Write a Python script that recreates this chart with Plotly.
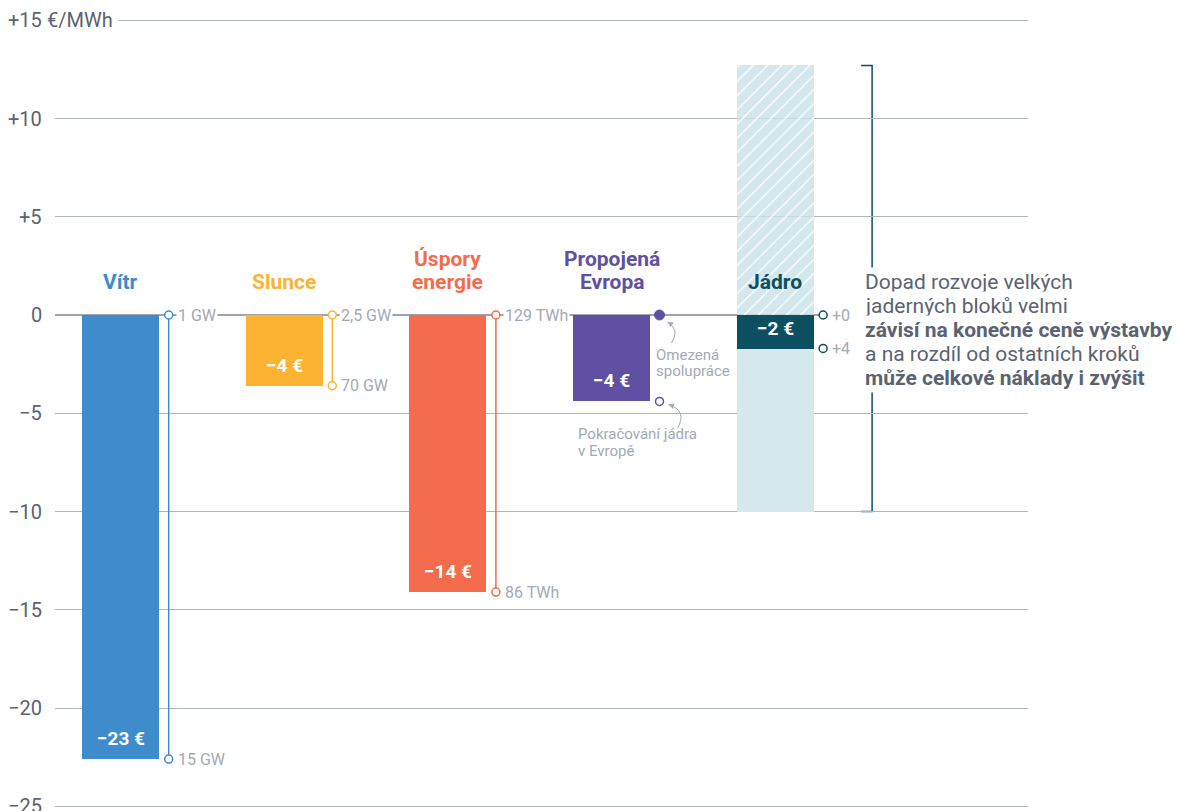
import numpy as np
import plotly.graph_objects as go

# ---------------- data ----------------
categories = ["Vítr", "Slunce", "Úspory<br>energie", "Propojená<br>Evropa", "Jádro"]
bar_values = [-22.6, -3.6, -14.1, -4.4, -1.75]
bar_labels = ["−23 €", "−4 €", "−14 €", "−4 €", "−2 €"]
range_top = [0, 0, 0, 0, 0]
range_bottom = [-22.6, -3.6, -14.1, -4.4, -1.7]
top_labels = ["1 GW", "2,5 GW", "129 TWh", "", "+0"]
bottom_labels = ["15 GW", "70 GW", "86 TWh", "", "+4"]
nuclear_low = -10.0
nuclear_high = 12.7
y_ticks = [15, 10, 5, 0, -5, -10, -15, -20, -25]
y_tick_labels = ["+15", "+10", "+5", "0", "−5", "−10", "−15", "−20", "−25"]
y_unit = "€/MWh"
europe_note_top = ["Omezená", "spolupráce"]
europe_note_bottom = ["Pokračování jádra", "v Evropě"]
note_lines = [
    "Dopad rozvoje velkých",
    "jaderných bloků velmi",
    "<b>závisí na konečné ceně výstavby</b>",
    "a na rozdíl od ostatních kroků",
    "<b>může celkové náklady i zvýšit</b>",
]

# ---------------- style ----------------
FONT = "Roboto"
bar_colors = ["#3e8ccb", "#fdb332", "#f26c4d", "#5f50a1", "#0b4f60"]
label_colors = ["#3e8ccb", "#fdb332", "#f26c4d", "#5f50a1", "#0b4f60"]
light = "#d5e8ec"
grid_col = "#aeb5bf"
zero_col = "#7e8590"
tick_col = "#5b6370"
small_col = "#a2aab5"
note_col = "#5b6370"

W, H = 1189, 811
ML, MR = 55, 161
x = np.arange(len(categories))
x_range = [-0.4016, 5.5458]
y_range = [-25.24, 16.03]
PX_X = (W - ML - MR) / (x_range[1] - x_range[0])   # pixels per x unit
PX_Y = H / (y_range[1] - y_range[0])                 # pixels per y unit
bar_w = 77 / PX_X
whisk = 48 / PX_X
N = len(categories) - 1  # nuclear index
E = 3  # Europe index


def dx(px):
    return px / PX_X


def dy(px):
    # pixel offset downward -> data offset
    return -px / PX_Y


fig = go.Figure()

# nuclear uncertainty range (hatched above zero, solid below)
fig.add_trace(go.Bar(
    x=[x[N]], y=[nuclear_high], base=[0], width=bar_w,
    marker=dict(color="white", line_width=0,
                pattern=dict(shape="/", fgcolor="white", bgcolor="rgba(200,225,231,0.8)",
                             size=10, solidity=0.12, fillmode="replace")),
    hoverinfo="skip", showlegend=False))
fig.add_trace(go.Bar(
    x=[x[N]], y=[0 - nuclear_low], base=[nuclear_low], width=bar_w,
    marker=dict(color=light, line_width=0), hoverinfo="skip", showlegend=False))

# main bars
fig.add_trace(go.Bar(
    x=x, y=bar_values, width=bar_w,
    marker=dict(color=bar_colors, line_width=0),
    hoverinfo="skip", showlegend=False))

# whiskers / range markers
for i in range(len(categories)):
    xi = x[i] + whisk
    col = bar_colors[i]
    if i < E:
        fig.add_trace(go.Scatter(
            x=[xi, xi], y=[range_top[i], range_bottom[i]], mode="lines+markers",
            line=dict(color=col, width=1.5),
            marker=dict(symbol="circle", size=8, color="white", line=dict(color=col, width=1.5)),
            hoverinfo="skip", showlegend=False, cliponaxis=False))
    elif i == E:
        fig.add_trace(go.Scatter(
            x=[xi], y=[range_top[i]], mode="markers",
            marker=dict(symbol="circle", size=10, color=col, line=dict(color=col, width=1)),
            hoverinfo="skip", showlegend=False))
        fig.add_trace(go.Scatter(
            x=[xi], y=[range_bottom[i]], mode="markers",
            marker=dict(symbol="circle", size=8, color="white", line=dict(color=col, width=1.5)),
            hoverinfo="skip", showlegend=False))
    else:
        fig.add_trace(go.Scatter(
            x=[xi, xi], y=[range_top[i], range_bottom[i]], mode="markers",
            marker=dict(symbol="circle", size=8, color="white", line=dict(color=col, width=1.5)),
            hoverinfo="skip", showlegend=False))

annotations = []

# y tick labels
for v, t in zip(y_ticks, y_tick_labels):
    annotations.append(dict(xref="paper", yref="y", x=0, y=v, xshift=-11, xanchor="right",
                            yanchor="middle", text=t, showarrow=False,
                            font=dict(family=FONT, size=20, color=tick_col)))
annotations.append(dict(xref="paper", yref="y", x=0, y=y_ticks[0], xshift=-14, xanchor="left",
                        yanchor="middle", text=y_unit, showarrow=False, bgcolor="white",
                        borderpad=5, font=dict(family=FONT, size=20, color=tick_col)))

# category labels (line by line, tight leading)
for i, c in enumerate(categories):
    lines = c.split("<br>")
    for k, ln in enumerate(lines):
        annotations.append(dict(x=x[i], y=0, yshift=19 + (len(lines) - 1 - k) * 23,
                                xanchor="center", yanchor="bottom",
                                text=f"<b>{ln}</b>", showarrow=False,
                                font=dict(family=FONT, size=21, color=label_colors[i])))

# value labels
for i, t in enumerate(bar_labels):
    annotations.append(dict(x=x[i], y=bar_values[i], yshift=7, xanchor="center", yanchor="bottom",
                            text=f"<b>{t}</b>", showarrow=False,
                            font=dict(family=FONT, size=19, color="white")))

# whisker end labels
for i in range(len(categories)):
    if top_labels[i]:
        annotations.append(dict(x=x[i] + whisk, y=range_top[i], xshift=7, xanchor="left",
                                yanchor="middle", text=top_labels[i], showarrow=False,
                                bgcolor="white", borderpad=1,
                                font=dict(family=FONT, size=16, color=small_col)))
    if bottom_labels[i]:
        annotations.append(dict(x=x[i] + whisk, y=range_bottom[i], xshift=7, xanchor="left",
                                yanchor="middle", text=bottom_labels[i], showarrow=False,
                                font=dict(family=FONT, size=16, color=small_col)))

# Europe scenario notes
for k, ln in enumerate(europe_note_top):
    annotations.append(dict(x=x[E] + dx(42), y=range_top[E] + dy(40 + 16 * k),
                            xanchor="left", yanchor="middle", text=ln, showarrow=False,
                            font=dict(family=FONT, size=15, color=small_col)))
for k, ln in enumerate(europe_note_bottom):
    annotations.append(dict(x=x[E] - dx(36), y=range_bottom[E] + dy(33 + 17 * k),
                            xanchor="left", yanchor="middle", text=ln, showarrow=False,
                            font=dict(family=FONT, size=15, color=small_col)))

# curved arrows (path + arrowhead)
shapes = []
arrow_specs = [
    (x[E] + whisk, range_top[E], (12, 28), (21, 15), (8, 7)),
    (x[E] + whisk, range_bottom[E], (18, 27), (28, 9), (9, 3)),
]
for (ox, oy, tail, ctrl, head) in arrow_specs:
    tx, ty = ox + dx(tail[0]), oy + dy(tail[1])
    cx, cy = ox + dx(ctrl[0]), oy + dy(ctrl[1])
    hx, hy = ox + dx(head[0]), oy + dy(head[1])
    shapes.append(dict(type="path", xref="x", yref="y",
                       path=f"M {tx},{ty} Q {cx},{cy} {hx},{hy}",
                       line=dict(color=small_col, width=1)))
    vx, vy = head[0] - ctrl[0], head[1] - ctrl[1]
    nrm = (vx ** 2 + vy ** 2) ** 0.5
    annotations.append(dict(x=hx, y=hy, text="", showarrow=True,
                            ax=-vx / nrm * 4, ay=-vy / nrm * 4, standoff=0,
                            arrowhead=2, arrowsize=1.1, arrowwidth=1, arrowcolor=small_col))

# right-hand note
for k, line in enumerate(note_lines):
    annotations.append(dict(x=x[N] + dx(87), y=-0.76, yshift=(2 - k) * 24, xanchor="left",
                            yanchor="middle", text=line, showarrow=False, bgcolor="white",
                            borderpad=2, font=dict(family=FONT, size=21, color=note_col)))

bx = x[N] + dx(97)
bt = dx(11)
shapes += [
    # zero line
    dict(type="line", xref="x", yref="y", x0=x_range[0], x1=x[N] + whisk, y0=0, y1=0,
         line=dict(color=zero_col, width=1.5), layer="below"),
    # bracket for the nuclear range
    dict(type="path", xref="x", yref="y",
         path=f"M {bx - bt},{nuclear_high} L {bx},{nuclear_high} "
              f"L {bx},{nuclear_low} L {bx - bt},{nuclear_low}",
         line=dict(color="#0b4f60", width=1.5), layer="below"),
]

fig.update_layout(
    width=W, height=H,
    margin=dict(l=ML, r=MR, t=0, b=0),
    plot_bgcolor="white", paper_bgcolor="white",
    barmode="overlay", bargap=0,
    showlegend=False,
    xaxis=dict(range=x_range, visible=False, fixedrange=True),
    yaxis=dict(range=y_range, tickvals=[v for v in y_ticks if v != 0], showgrid=True,
               gridcolor=grid_col, gridwidth=1, showticklabels=False, zeroline=False,
               showline=False, ticks="", fixedrange=True),
    annotations=annotations,
    shapes=shapes,
    font=dict(family=FONT),
)

fig.write_html("out.html")
